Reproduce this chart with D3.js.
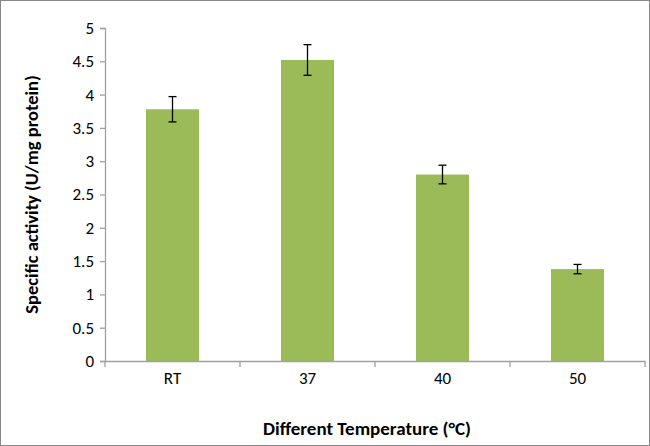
<!DOCTYPE html><html><head><script src="https://d3js.org/d3.v7.min.js"></script>
<style>body{margin:0;background:#fff}</style></head><body><svg width="650" height="446"></svg>
<script>
const categories=["RT","37","40","50"];
const values=[3.78,4.52,2.80,1.38];
const errors=[0.19,0.23,0.14,0.07];
const yTicks=[0,0.5,1,1.5,2,2.5,3,3.5,4,4.5,5];
const yTickLabels=["0","0.5","1","1.5","2","2.5","3","3.5","4","4.5","5"];
const svg=d3.select("svg");
svg.append("rect").attr("x",0.5).attr("y",0.5).attr("width",649).attr("height",445).attr("fill","none").attr("stroke","#888");
const L=105,R=645,T=28,B=361;
const x=d3.scaleBand().domain(categories).range([L,R]).paddingInner(0.607).paddingOuter(0.3035);
const y=d3.scaleLinear().domain([0,5]).range([B,T]);
const font="Calibri, Carlito, 'Open Sans', 'Liberation Sans', Arial, sans-serif";
svg.selectAll(".bar").data(values).join("rect").attr("x",(d,i)=>x(categories[i])).attr("width",x.bandwidth())
 .attr("y",d=>y(d)).attr("height",d=>B-y(d)).attr("fill","#9bbb59");
const eg=svg.append("g").attr("stroke","#000").attr("stroke-width",1.3);
values.forEach((v,i)=>{const cx=x(categories[i])+x.bandwidth()/2;
 eg.append("line").attr("x1",cx).attr("x2",cx).attr("y1",y(v+errors[i])).attr("y2",y(v-errors[i]));
 [v+errors[i],v-errors[i]].forEach(e=>eg.append("line").attr("x1",cx-4).attr("x2",cx+4).attr("y1",y(e)).attr("y2",y(e)));});
const ya=svg.append("g").attr("transform",`translate(${L},0)`).call(d3.axisLeft(y).tickValues(yTicks).tickFormat((d,i)=>yTickLabels[i]).tickSizeOuter(0).tickSize(5));
ya.selectAll("text").attr("font-size",17).attr("font-family",font).attr("fill","#000").attr("dx",-3);
ya.selectAll("line,path").attr("stroke","#a0a0a0").attr("stroke-width",1.3);
const xa=svg.append("g").attr("transform",`translate(0,${B})`).call(d3.axisBottom(x).tickSize(0).tickSizeOuter(0));
xa.selectAll("text").attr("font-size",17).attr("font-family",font).attr("fill","#000").attr("dy","1.2em");
xa.selectAll("path").attr("stroke","#a0a0a0").attr("stroke-width",1.3);
[0,1,2,3,4].forEach(i=>svg.append("line").attr("x1",L+i*(R-L)/4).attr("x2",L+i*(R-L)/4).attr("y1",B).attr("y2",B+6).attr("stroke","#a0a0a0").attr("stroke-width",1.3));
svg.append("text").attr("x",(L+R)/2-8).attr("y",435).attr("text-anchor","middle").attr("font-family",font).attr("font-weight","bold").attr("font-size",19).text("Different Temperature (°C)");
svg.append("text").attr("transform",`translate(38,${(T+B)/2}) rotate(-90)`).attr("text-anchor","middle").attr("font-family",font).attr("font-weight","bold").attr("font-size",18.5).text("Specific activity (U/mg protein)");
</script></body></html>
